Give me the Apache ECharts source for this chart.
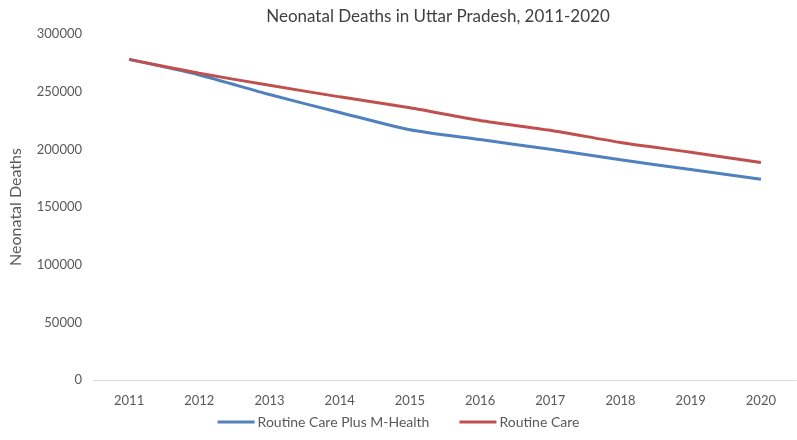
<!DOCTYPE html>
<html>
<head>
<meta charset="utf-8">
<script src="https://cdn.jsdelivr.net/npm/echarts@6/dist/echarts.min.js"></script>
<style>html,body{margin:0;padding:0;background:#fff}#c{width:797px;height:440px}</style>
</head>
<body>
<div id="c"></div>
<script>
const years = ['2011','2012','2013','2014','2015','2016','2017','2018','2019','2020'];
const mHealth = [278000, 264500, 247500, 232000, 217000, 208500, 200000, 191000, 182500, 174000];
const routine = [278000, 266000, 255500, 245500, 236000, 225000, 216500, 206000, 197500, 188500];
const seriesNames = ['Routine Care Plus M-Health', 'Routine Care'];

const chart = echarts.init(document.getElementById('c'));
const font = 'Lato, "Open Sans", sans-serif';
chart.setOption({
  animation: false,
  textStyle: { fontFamily: font },
  title: {
    text: 'Neonatal Deaths in Uttar Pradesh, 2011-2020',
    left: 433, top: 3, textAlign: 'center',
    textStyle: { fontFamily: font, fontSize: 17, fontWeight: 'normal', color: '#404040' }
  },
  grid: { left: 88, right: 1, top: 34, bottom: 60 },
  legend: {
    bottom: 6, left: 'center', itemWidth: 37, itemHeight: 3, itemGap: 30, icon: 'rect',
    textStyle: { fontFamily: font, fontSize: 14, color: '#595959', padding: [0,0,0,-2] },
    data: seriesNames
  },
  xAxis: {
    type: 'category', data: years, boundaryGap: true,
    axisLine: { lineStyle: { color: '#d9d9d9' } },
    axisTick: { show: false },
    axisLabel: { color: '#595959', fontSize: 13, margin: 14, fontFamily: font }
  },
  yAxis: {
    type: 'value', min: 0, max: 300000, interval: 50000,
    name: 'Neonatal Deaths', nameLocation: 'middle', nameGap: 70,
    nameTextStyle: { color: '#595959', fontSize: 16, fontFamily: font },
    axisLine: { show: false }, axisTick: { show: false },
    splitLine: { show: false },
    axisLabel: { color: '#595959', fontSize: 13, margin: 12, fontFamily: font, formatter: v => String(v) }
  },
  series: [
    { name: seriesNames[0], type: 'line', data: mHealth, smooth: 0.25, showSymbol: false,
      lineStyle: { color: '#4F81BD', width: 3 }, itemStyle: { color: '#4F81BD' } },
    { name: seriesNames[1], type: 'line', data: routine, smooth: 0.25, showSymbol: false,
      lineStyle: { color: '#C0504D', width: 3 }, itemStyle: { color: '#C0504D' } }
  ]
});
</script>
</body>
</html>
